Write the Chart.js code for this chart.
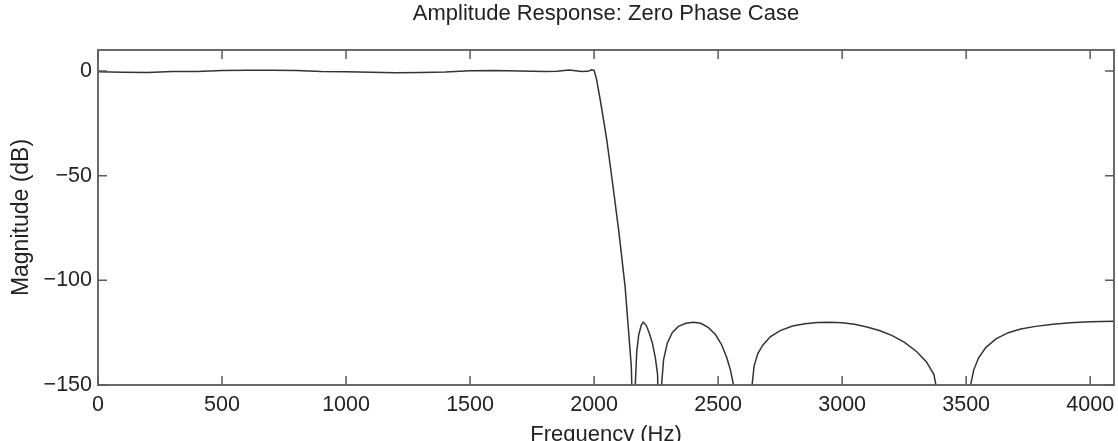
<!DOCTYPE html>
<html>
<head>
<meta charset="utf-8">
<script src="https://cdn.jsdelivr.net/npm/chart.js@4"></script>
<style>
  body { margin: 0; background: #fff; }
  #wrap { width: 1118px; height: 441px; }
</style>
</head>
<body>
<div id="wrap"><canvas id="ampChart"></canvas></div>
<script>
// Amplitude response (Hz, dB)
const freqHz = [
  0, 100, 200, 300, 400, 500, 600, 700, 800, 900, 1000, 1100, 1200, 1300, 1400,
  1500, 1600, 1700, 1800, 1850, 1900, 1950, 1975, 1990, 2000,
  2010, 2025, 2050, 2075, 2100, 2125, 2150, 2163,
  2166, 2172, 2180, 2190, 2198, 2210, 2222, 2235, 2247, 2256, 2266,
  2272, 2280, 2295, 2315, 2340, 2370, 2400, 2430, 2460, 2490, 2515, 2535, 2550, 2562, 2572,
  2600, 2630,
  2637, 2645, 2660, 2680, 2710, 2750, 2800, 2850, 2900, 2950, 3000, 3050, 3100,
  3150, 3200, 3250, 3300, 3340, 3370, 3386, 3400,
  3450, 3505,
  3518, 3530, 3550, 3580, 3620, 3670, 3720, 3780, 3850, 3920, 4000, 4096
];
const magDb = [
  -0.4, -0.6, -0.7, -0.3, -0.3, 0.2, 0.3, 0.3, 0.2, -0.3, -0.4, -0.6, -0.9, -0.8, -0.5,
  0.1, 0.2, 0.0, -0.3, -0.1, 0.4, -0.3, -0.2, 0.5, 0.3,
  -4, -14, -32, -54, -77, -103, -141, -200,
  -150, -134, -126, -121.5, -120, -121.5, -125, -130, -137, -145, -200,
  -150, -138, -130, -125, -122, -120.5, -120, -120.5, -122.5, -126, -131, -137, -143, -150, -200,
  -175, -175,
  -150, -141, -135, -131, -127, -124, -121.8, -120.7, -120.1, -120, -120.3, -121, -122.3,
  -124, -126.3, -129.5, -134, -139, -145, -155, -175,
  -180, -175,
  -150, -143, -137, -132, -128, -125, -123.3, -122, -121, -120.3, -119.8, -119.5
];
const xTicks = [0, 500, 1000, 1500, 2000, 2500, 3000, 3500, 4000];
const yTicks = [-150, -100, -50, 0];

const textColor = '#222';
const frameColor = '#5a5a5a';
const family = "'Liberation Sans', Arial, Helvetica, sans-serif";
const tickFont = { family, size: 21.5 };

// MATLAB style box with inward ticks on all four sides
const framePlugin = {
  id: 'frame',
  afterDraw(chart) {
    const { ctx, chartArea: a, scales } = chart;
    const len = 9;
    ctx.save();
    ctx.strokeStyle = frameColor;
    ctx.lineWidth = 1.8;
    ctx.strokeRect(a.left, a.top, a.right - a.left, a.bottom - a.top);
    ctx.lineWidth = 1.5;
    ctx.beginPath();
    xTicks.forEach(v => {
      const px = scales.x.getPixelForValue(v);
      ctx.moveTo(px, a.bottom); ctx.lineTo(px, a.bottom - len);
      ctx.moveTo(px, a.top); ctx.lineTo(px, a.top + len);
    });
    yTicks.forEach(v => {
      const py = scales.y.getPixelForValue(v);
      ctx.moveTo(a.left, py); ctx.lineTo(a.left + len, py);
      ctx.moveTo(a.right, py); ctx.lineTo(a.right - len, py);
    });
    ctx.stroke();
    ctx.restore();
  }
};

new Chart(document.getElementById('ampChart'), {
  type: 'line',
  data: {
    datasets: [{
      data: freqHz.map((f, i) => ({ x: f, y: magDb[i] })),
      borderColor: '#333',
      borderWidth: 1.5,
      pointRadius: 0,
      tension: 0,
      fill: false
    }]
  },
  options: {
    responsive: true,
    maintainAspectRatio: false,
    animation: false,
    layout: { padding: { left: 0, right: 4, top: 0, bottom: 0 } },
    plugins: {
      legend: { display: false },
      tooltip: { enabled: false },
      title: {
        display: true,
        fullSize: false,
        text: 'Amplitude Response: Zero Phase Case',
        color: textColor,
        font: { family, size: 22, weight: 'normal', lineHeight: 1.2 },
        padding: { top: 0.8, bottom: 22.8 }
      }
    },
    scales: {
      x: {
        type: 'linear',
        min: 0,
        max: 4096,
        afterBuildTicks: s => { s.ticks = xTicks.map(v => ({ value: v })); },
        afterFit: s => { s.height = 56; s.paddingLeft = 0; s.paddingRight = 0; },
        grid: { display: false, drawTicks: false },
        border: { display: false },
        ticks: { color: textColor, font: tickFont, padding: 7, maxRotation: 0, callback: v => String(v) },
        title: {
          display: true,
          text: 'Frequency (Hz)',
          color: textColor,
          font: { family, size: 22, lineHeight: 1 },
          padding: { top: 0, bottom: -5 }
        }
      },
      y: {
        min: -150,
        max: 10,
        afterBuildTicks: s => { s.ticks = yTicks.map(v => ({ value: v })); },
        afterFit: s => { s.width = 98; s.paddingTop = 0; s.paddingBottom = 0; },
        grid: { display: false, drawTicks: false },
        border: { display: false },
        ticks: {
          color: textColor,
          font: tickFont,
          padding: 6,
          callback: v => String(v).replace('-', '\u2212')
        },
        title: {
          display: true,
          text: 'Magnitude (dB)',
          color: textColor,
          font: { family, size: 23, lineHeight: 1 },
          padding: { top: 10, bottom: 0 }
        }
      }
    }
  },
  plugins: [framePlugin]
});
</script>
</body>
</html>
